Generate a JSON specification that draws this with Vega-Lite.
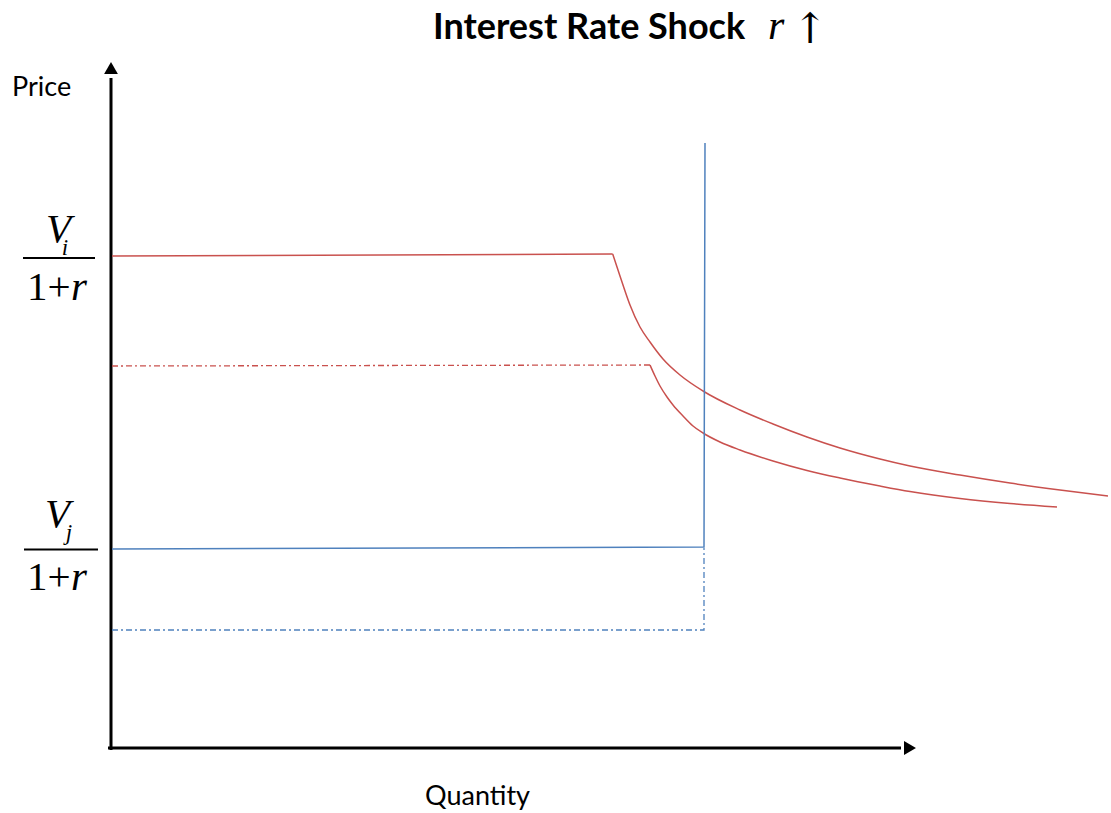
{
  "$schema": "https://vega.github.io/schema/vega-lite/v6.json",
  "width": 1111,
  "height": 813,
  "padding": 0,
  "autosize": {"type": "fit", "contains": "padding"},
  "background": "white",
  "config": {"view": {"stroke": null}},
  "datasets": {
    "axes": [
      {"q": -0.3, "p": 0, "q2": 79.0, "p2": 0},
      {"q": 0, "p": -0.2, "q2": 0, "p2": 67.0}
    ],
    "heads": [
      {"q": 79.9, "p": 0, "dir": "right"},
      {"q": 0, "p": 68.0, "dir": "up"}
    ],
    "bars": [
      {"q": -8.8, "p": 49.0, "q2": -1.6},
      {"q": -8.7, "p": 19.85, "q2": -1.3}
    ],
    "lines": [
      {"s": "riflat", "o": 0, "q": 0.1, "p": 49.2},
      {"s": "riflat", "o": 1, "q": 50.17, "p": 49.4},
      {"s": "ri", "o": 1, "q": 50.17, "p": 49.4},
      {"s": "ri", "o": 2, "q": 50.7, "p": 47.8},
      {"s": "ri", "o": 3, "q": 51.3, "p": 46.0},
      {"s": "ri", "o": 4, "q": 51.9, "p": 44.3},
      {"s": "ri", "o": 5, "q": 52.9, "p": 42.1},
      {"s": "ri", "o": 6, "q": 53.9, "p": 40.6},
      {"s": "ri", "o": 7, "q": 55.2, "p": 38.9},
      {"s": "ri", "o": 8, "q": 56.9, "p": 37.3},
      {"s": "ri", "o": 9, "q": 59.2, "p": 35.7},
      {"s": "ri", "o": 10, "q": 62.9, "p": 33.8},
      {"s": "ri", "o": 11, "q": 66.2, "p": 32.4},
      {"s": "ri", "o": 12, "q": 69.6, "p": 31.1},
      {"s": "ri", "o": 13, "q": 72.9, "p": 30.0},
      {"s": "ri", "o": 14, "q": 76.9, "p": 28.9},
      {"s": "ri", "o": 15, "q": 79.9, "p": 28.2},
      {"s": "ri", "o": 16, "q": 84.9, "p": 27.3},
      {"s": "ri", "o": 17, "q": 89.9, "p": 26.5},
      {"s": "ri", "o": 18, "q": 94.9, "p": 25.8},
      {"s": "ri", "o": 19, "q": 99.7, "p": 25.2},
      {"s": "rflat", "o": 0, "q": 0.1, "p": 38.2},
      {"s": "rflat", "o": 1, "q": 53.9, "p": 38.3},
      {"s": "rcurve", "o": 0, "q": 53.9, "p": 38.3},
      {"s": "rcurve", "o": 1, "q": 54.4, "p": 37.2},
      {"s": "rcurve", "o": 2, "q": 54.9, "p": 36.2},
      {"s": "rcurve", "o": 3, "q": 55.6, "p": 35.1},
      {"s": "rcurve", "o": 4, "q": 56.2, "p": 34.3},
      {"s": "rcurve", "o": 5, "q": 57.2, "p": 33.2},
      {"s": "rcurve", "o": 6, "q": 58.2, "p": 32.2},
      {"s": "rcurve", "o": 7, "q": 59.2, "p": 31.5},
      {"s": "rcurve", "o": 8, "q": 60.9, "p": 30.6},
      {"s": "rcurve", "o": 9, "q": 62.9, "p": 29.8},
      {"s": "rcurve", "o": 10, "q": 66.2, "p": 28.7},
      {"s": "rcurve", "o": 11, "q": 69.6, "p": 27.75},
      {"s": "rcurve", "o": 12, "q": 72.9, "p": 27.0},
      {"s": "rcurve", "o": 13, "q": 76.9, "p": 26.2},
      {"s": "rcurve", "o": 14, "q": 79.9, "p": 25.65},
      {"s": "rcurve", "o": 15, "q": 84.9, "p": 24.95},
      {"s": "rcurve", "o": 16, "q": 89.9, "p": 24.45},
      {"s": "rcurve", "o": 17, "q": 94.6, "p": 24.1},
      {"s": "bj", "o": 0, "q": 0.1, "p": 19.9},
      {"s": "bj", "o": 1, "q": 59.3, "p": 20.1},
      {"s": "bj", "o": 2, "q": 59.4, "p": 60.5},
      {"s": "bflat", "o": 0, "q": 0.1, "p": 11.8},
      {"s": "bflat", "o": 1, "q": 59.3, "p": 11.8},
      {"s": "bflat", "o": 2, "q": 59.3, "p": 20.0}
    ],
    "texts": [
      {"g": "sans", "q": -9.9, "p": 65.2, "t": "Price"},
      {"g": "sans", "q": 31.4, "p": -5.7, "t": "Quantity"},
      {"g": "title", "q": 32.2, "p": 70.9, "t": "Interest Rate Shock"},
      {"g": "titler", "q": 65.7, "p": 70.9, "t": "r"},
      {"g": "arrow", "q": 69.9, "p": 70.5, "t": "↑"},
      {"g": "V", "q": -5.25, "p": 50.6, "t": "V"},
      {"g": "V", "q": -5.35, "p": 22.1, "t": "V"},
      {"g": "sub", "q": -4.6, "p": 49.3, "t": "i"},
      {"g": "sub", "q": -4.2, "p": 20.8, "t": "j"},
      {"g": "one", "q": -8.4, "p": 44.8, "t": "1+"},
      {"g": "one", "q": -8.4, "p": 15.8, "t": "1+"},
      {"g": "r", "q": -4.0, "p": 44.8, "t": "r"},
      {"g": "r", "q": -4.0, "p": 15.8, "t": "r"}
    ]
  },
  "encoding": {
    "x": {"field": "q", "type": "quantitative", "scale": {"domain": [-11.1, 100], "nice": false, "zero": false}, "axis": null},
    "y": {"field": "p", "type": "quantitative", "scale": {"domain": [-6.5, 74.8], "nice": false, "zero": false}, "axis": null}
  },
  "layer": [
    {
      "data": {"name": "axes"},
      "mark": {"type": "rule", "color": "black", "strokeWidth": 3},
      "encoding": {"x2": {"field": "q2"}, "y2": {"field": "p2"}}
    },
    {
      "data": {"name": "heads"},
      "transform": [{"filter": "datum.dir === 'right'"}],
      "mark": {"type": "point", "shape": "triangle-right", "filled": true, "color": "black", "size": 190, "opacity": 1}
    },
    {
      "data": {"name": "heads"},
      "transform": [{"filter": "datum.dir === 'up'"}],
      "mark": {"type": "point", "shape": "triangle-up", "filled": true, "color": "black", "size": 190, "opacity": 1}
    },
    {
      "data": {"name": "bars"},
      "mark": {"type": "rule", "color": "black", "strokeWidth": 2},
      "encoding": {"x2": {"field": "q2"}}
    },
    {
      "data": {"name": "lines"},
      "transform": [{"filter": "datum.s === 'riflat'"}],
      "mark": {"type": "line", "color": "#C9514E", "strokeWidth": 1.5},
      "encoding": {"order": {"field": "o"}}
    },
    {
      "data": {"name": "lines"},
      "transform": [{"filter": "datum.s === 'ri' || datum.s === 'rcurve'"}],
      "mark": {"type": "line", "color": "#C9514E", "strokeWidth": 1.5, "interpolate": "monotone"},
      "encoding": {"detail": {"field": "s"}, "order": {"field": "o"}}
    },
    {
      "data": {"name": "lines"},
      "transform": [{"filter": "datum.s === 'rflat'"}],
      "mark": {"type": "line", "color": "#C9514E", "strokeWidth": 1.3, "strokeDash": [6, 3, 2, 3]},
      "encoding": {"order": {"field": "o"}}
    },
    {
      "data": {"name": "lines"},
      "transform": [{"filter": "datum.s === 'bj'"}],
      "mark": {"type": "line", "color": "#4F81BD", "strokeWidth": 1.5},
      "encoding": {"order": {"field": "o"}}
    },
    {
      "data": {"name": "lines"},
      "transform": [{"filter": "datum.s === 'bflat'"}],
      "mark": {"type": "line", "color": "#4F81BD", "strokeWidth": 1.3, "strokeDash": [6, 3, 2, 3]},
      "encoding": {"order": {"field": "o"}}
    },
    {
      "data": {"name": "texts"},
      "transform": [{"filter": "datum.g === 'sans'"}],
      "mark": {"type": "text", "font": "Lato", "fontSize": 27, "align": "left", "baseline": "alphabetic", "color": "black"},
      "encoding": {"text": {"field": "t"}}
    },
    {
      "data": {"name": "texts"},
      "transform": [{"filter": "datum.g === 'title'"}],
      "mark": {"type": "text", "font": "Lato", "fontSize": 36, "fontWeight": "bold", "align": "left", "baseline": "alphabetic", "color": "black"},
      "encoding": {"text": {"field": "t"}}
    },
    {
      "data": {"name": "texts"},
      "transform": [{"filter": "datum.g === 'titler'"}],
      "mark": {"type": "text", "font": "Liberation Serif", "fontSize": 42, "fontStyle": "italic", "align": "left", "baseline": "alphabetic", "color": "black"},
      "encoding": {"text": {"field": "t"}}
    },
    {
      "data": {"name": "texts"},
      "transform": [{"filter": "datum.g === 'arrow'"}],
      "mark": {"type": "text", "font": "DejaVu Serif", "fontSize": 42, "align": "center", "baseline": "alphabetic", "color": "black"},
      "encoding": {"text": {"field": "t"}}
    },
    {
      "data": {"name": "texts"},
      "transform": [{"filter": "datum.g === 'V'"}],
      "mark": {"type": "text", "font": "Liberation Serif", "fontSize": 41, "fontStyle": "italic", "align": "center", "baseline": "alphabetic", "color": "black"},
      "encoding": {"text": {"field": "t"}}
    },
    {
      "data": {"name": "texts"},
      "transform": [{"filter": "datum.g === 'sub'"}],
      "mark": {"type": "text", "font": "Liberation Serif", "fontSize": 23, "fontStyle": "italic", "align": "center", "baseline": "alphabetic", "color": "black"},
      "encoding": {"text": {"field": "t"}}
    },
    {
      "data": {"name": "texts"},
      "transform": [{"filter": "datum.g === 'one'"}],
      "mark": {"type": "text", "font": "Liberation Serif", "fontSize": 41, "align": "left", "baseline": "alphabetic", "color": "black"},
      "encoding": {"text": {"field": "t"}}
    },
    {
      "data": {"name": "texts"},
      "transform": [{"filter": "datum.g === 'r'"}],
      "mark": {"type": "text", "font": "Liberation Serif", "fontSize": 41, "fontStyle": "italic", "align": "left", "baseline": "alphabetic", "color": "black"},
      "encoding": {"text": {"field": "t"}}
    }
  ]
}
